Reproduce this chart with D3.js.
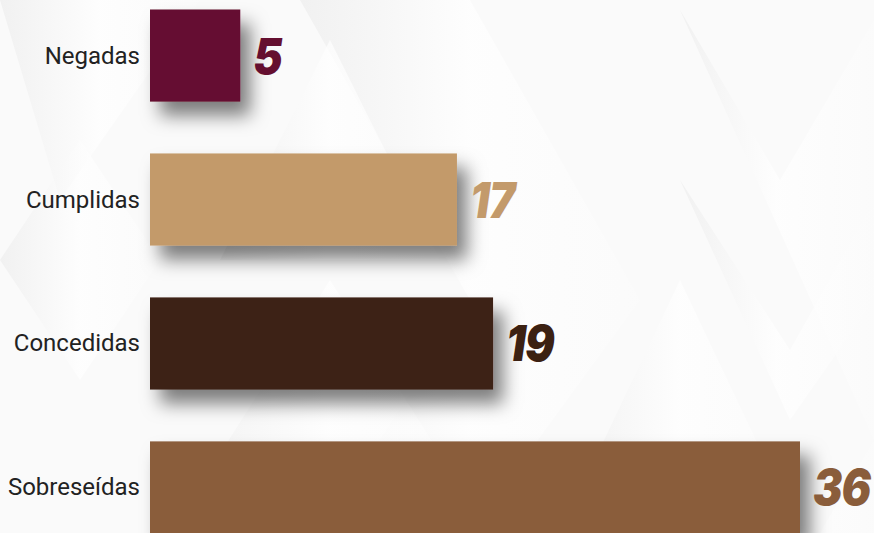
<!DOCTYPE html>
<html><head><meta charset="utf-8">
<script src="https://cdn.jsdelivr.net/npm/d3@7"></script>
<style>html,body{margin:0;padding:0;background:#fafafa;overflow:hidden}</style>
</head><body>
<svg id="chart" width="874" height="533"></svg>
<script>
const categories = ["Negadas", "Cumplidas", "Concedidas", "Sobreseídas"];
const values = [5, 17, 19, 36];
const colors = ["#650f30", "#c39a6b", "#3c2112", "#8a5d3b"];

const W = 874, H = 533;
const svg = d3.select("#chart");
const defs = svg.append("defs");

// background
svg.append("rect").attr("width", W).attr("height", H).attr("fill", "#fafafa");
const g1 = defs.append("linearGradient").attr("id", "bgA").attr("x1", "0").attr("y1", "0").attr("x2", "1").attr("y2", "0");
g1.append("stop").attr("offset", "0").attr("stop-color", "#ededed");
g1.append("stop").attr("offset", "0.5").attr("stop-color", "#ffffff");
g1.append("stop").attr("offset", "1").attr("stop-color", "#fbfbfb");
const bgShapes = [
  [[0,260],[80,140],[160,260],[80,380]],
  [[300,0],[470,0],[640,300],[470,533],[320,533],[470,300]],
  [[680,10],[780,180],[874,20],[874,533],[820,533],[874,440]],
  [[560,533],[680,280],[800,533]],
  [[170,533],[330,280],[490,533]],
  [[0,0],[200,0],[60,200]],
  [[220,260],[330,40],[440,260]],
  [[680,180],[790,350],[874,200],[874,300],[790,420]]
];
svg.append("g").selectAll("polygon").data(bgShapes).join("polygon")
  .attr("points", d => d.map(p => p.join(",")).join(" "))
  .attr("fill", "url(#bgA)").attr("opacity", 0.7);

// shadow filter
const f = defs.append("filter").attr("id", "shadow").attr("x", "-20%").attr("y", "-30%").attr("width", "160%").attr("height", "190%");
f.append("feDropShadow").attr("dx", 10).attr("dy", 14).attr("stdDeviation", 9)
  .attr("flood-color", "#000").attr("flood-opacity", 0.5);

const x = d3.scaleLinear().domain([0, 36]).range([150, 800]);
const y = d3.scaleBand().domain(categories).range([-15, 558]).paddingInner(0.36).paddingOuter(0.17);

const data = categories.map((c, i) => ({c, v: values[i], col: colors[i]}));

svg.append("g").selectAll("rect").data(data).join("rect")
  .attr("x", x(0)).attr("y", d => y(d.c))
  .attr("width", d => x(d.v) - x(0)).attr("height", y.bandwidth())
  .attr("fill", d => d.col).attr("filter", "url(#shadow)");

svg.append("g").selectAll("text").data(data).join("text")
  .attr("x", 140).attr("y", d => y(d.c) + y.bandwidth() / 2)
  .attr("text-anchor", "end").attr("dominant-baseline", "central")
  .attr("font-family", "Roboto, sans-serif").attr("font-size", 24)
  .attr("fill", "#222").text(d => d.c);

svg.append("g").selectAll("text").data(data).join("text")
  .attr("transform", d => `translate(${x(d.v) + 13},${y(d.c) + y.bandwidth() / 2 + 18}) scale(0.88,1)`)
  .attr("font-family", "Inter, sans-serif").attr("font-weight", 900).attr("font-style", "italic")
  .attr("font-size", 50).attr("letter-spacing", -1).attr("fill", d => d.col).text(d => d.v);
</script>
</body></html>
